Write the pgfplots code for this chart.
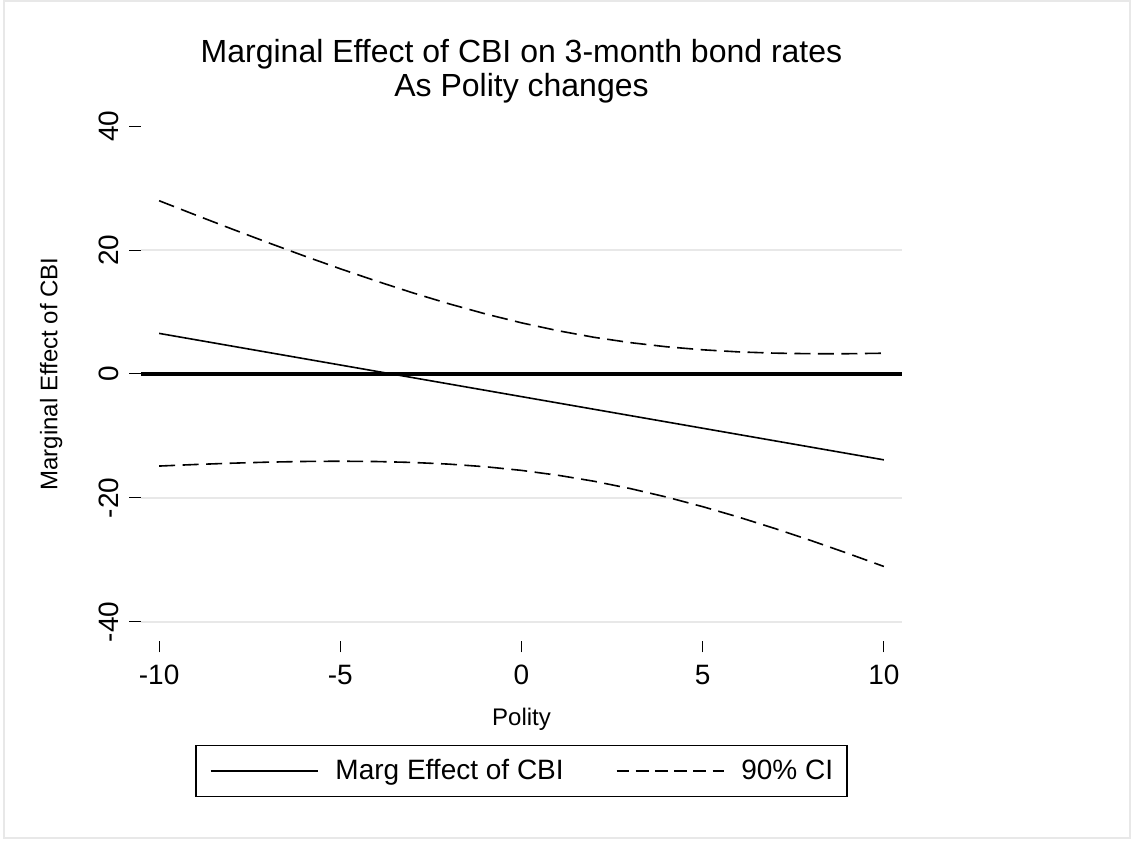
\documentclass[border=0pt]{standalone}
\usepackage{fontspec}
\setmainfont{Liberation Sans}
\usepackage{pgfplots}
\usepackage{pgfplotstable}
\pgfplotsset{compat=1.18}

\pgfplotstableread{
x me lo hi
-10 6.55 -14.85 27.95
-9 5.53 -14.60 25.66
-8 4.51 -14.39 23.41
-7 3.49 -14.22 21.20
-6 2.47 -14.11 19.05
-5 1.45 -14.07 16.97
-4 0.43 -14.12 14.98
-3 -0.59 -14.27 13.09
-2 -1.61 -14.54 11.32
-1 -2.63 -14.96 9.70
0 -3.65 -15.55 8.25
1 -4.67 -16.33 6.99
2 -5.69 -17.30 5.92
3 -6.71 -18.48 5.06
4 -7.73 -19.85 4.39
5 -8.75 -21.40 3.90
6 -9.77 -23.10 3.56
7 -10.79 -24.94 3.36
8 -11.81 -26.89 3.27
9 -12.83 -28.93 3.27
10 -13.85 -31.05 3.35
}\datatable

\begin{document}
\begin{tikzpicture}
\useasboundingbox (0,0) rectangle (565.5pt,420.5pt);
\draw[black!9, line width=1pt] (1.75pt,1.5pt) rectangle (564.75pt,420pt);
\begin{axis}[
  at={(70.5pt,100pt)}, anchor=south west,
  scale only axis, width=380.5pt, height=267pt,
  xmin=-10.5, xmax=10.5, ymin=-43.07, ymax=43.07,
  axis x line*=bottom, axis y line*=left,
  axis line style={draw=none},
  xtick={-10,-5,0,5,10}, xticklabels={-10,-5,0,5,10},
  ytick={-40,-20,0,20,40}, yticklabels={-40,-20,0,20,40},
  tick align=outside, major tick length=5.75pt,
  tick style={black, line width=0.5pt},
  extra y ticks={-40,-20,20}, extra y tick labels={},
  extra y tick style={grid=major, major tick length=0pt},
  major grid style={black!9, line width=1pt},
  tick label style={font=\fontsize{14}{14}\selectfont, inner sep=0pt},
  xticklabel style={anchor=base},
  xticklabel shift=16.25pt,
  yticklabel style={rotate=90, anchor=base},
  yticklabel shift=5.6pt,
  xlabel={Polity},
  ylabel={Marginal Effect of CBI},
  every axis x label/.style={at={(axis description cs:0.5,-0.1573)}, anchor=base, font=\fontsize{12}{12}\selectfont, inner sep=0pt},
  every axis y label/.style={at={(axis description cs:-0.11,0.5)}, rotate=90, anchor=base, font=\fontsize{12}{12}\selectfont, inner sep=0pt},
  title={Marginal Effect of CBI on 3-month bond rates\\As Polity changes},
  title style={at={(axis description cs:0.5,0.998)}, anchor=base, align=center, font=\fontsize{16}{17}\selectfont, inner sep=0pt},
  legend columns=2,
  legend cell align=left,
  legend image code/.code={\draw[#1] (0pt,0pt) -- (53.5pt,0pt);},
  legend style={at={(0.5,-0.1948)}, anchor=north, draw=black, line width=0.7pt,
    inner xsep=7pt, inner ysep=6.95pt, column sep=8.5pt,
    font=\fontsize{14}{14}\selectfont, nodes={inner sep=0pt},
    /tikz/every even column/.append style={column sep=26pt}},
]
\addplot[black, line width=1.6pt, forget plot] coordinates {(-10.5,0) (10.5,0)};
\addplot[black, line width=0.8pt] table[x=x, y=me] {\datatable};
\addlegendentry{Marg Effect of CBI}
\addplot[black, line width=0.8pt, dash pattern=on 8pt off 3.75pt,
  legend image code/.code={\draw[black, line width=0.8pt, dash pattern=on 6.4pt off 3.2pt] (0pt,0pt) -- (53.5pt,0pt);}] table[x=x, y=hi] {\datatable};
\addlegendentry{90\% CI}
\addplot[black, line width=0.8pt, dash pattern=on 8pt off 3.75pt, forget plot] table[x=x, y=lo] {\datatable};
\end{axis}
\end{tikzpicture}
\end{document}
